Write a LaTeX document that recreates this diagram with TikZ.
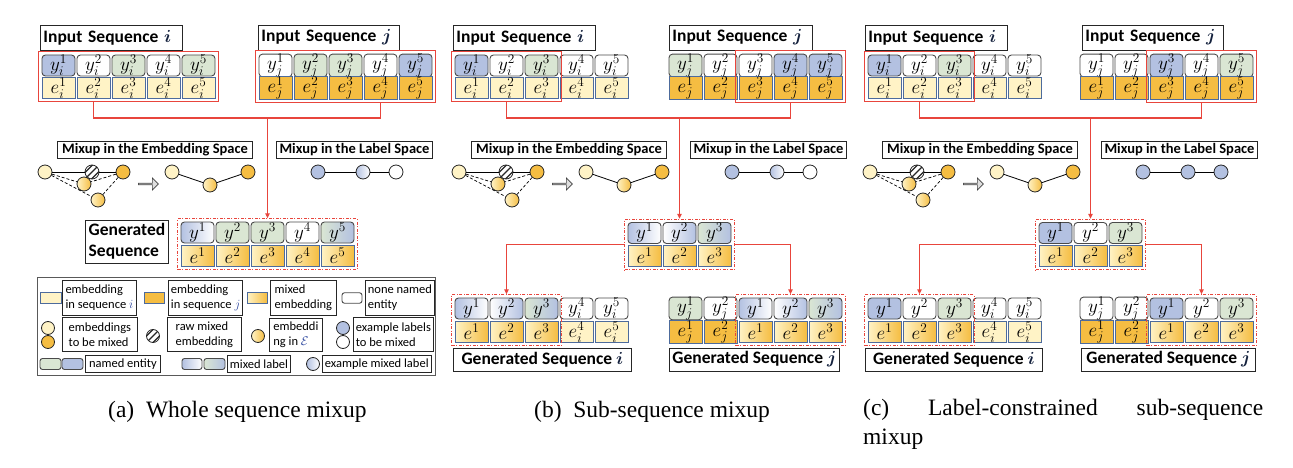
\RequirePackage{fix-cm}
\documentclass[tikz,border=0pt]{standalone}
\usepackage{fontspec}
\usepackage{bm}
\newfontfamily\calfont{Carlito}
\newfontfamily\capfont{Liberation Serif}
\usetikzlibrary{fit,shapes.arrows,arrows.meta,calc}
\definecolor{cYi}{HTML}{FFF3C6}
\definecolor{cYj}{HTML}{F5BD42}
\definecolor{cEb}{HTML}{4D6B9C}
\definecolor{cYb}{HTML}{4A4A4A}
\definecolor{cBlue}{HTML}{B3C1E1}
\definecolor{cGreen}{HTML}{DAE6D3}
\definecolor{cRed}{HTML}{E8453C}
\definecolor{cIdx}{HTML}{2E48A0}
\definecolor{cHd}{HTML}{14213D}
\newcommand\cellfont{\fontsize{19}{21}\selectfont}
\newcommand\hdfont{\calfont\bfseries\fontsize{17.5}{21}\selectfont}
\newcommand\mxfont{\calfont\bfseries\fontsize{14.5}{16}\selectfont}
\newcommand\lgfont{\calfont\fontsize{12.5}{15}\selectfont}
\newcommand\cpfont{\capfont\fontsize{23.5}{29}\selectfont}
\newcommand\hdidx[1]{{\color{cHd}$\bm{#1}$}}
\newcommand\lgidx[1]{{\color{cIdx}$#1$}}
\tikzset{
 ycell/.style={draw=cYb, line width=0.9pt, rounded corners=3.5pt, minimum width=33pt, minimum height=21pt, inner sep=0pt, font=\cellfont},
 ecell/.style={draw=cEb, line width=0.7pt, minimum width=33pt, minimum height=21pt, inner sep=0pt, font=\cellfont},
 fB/.style={fill=cBlue}, fG/.style={fill=cGreen}, fW/.style={fill=white},
 fBW/.style={left color=cBlue, right color=white},
 fWB/.style={left color=white, right color=cBlue},
 fGB/.style={left color=cGreen, right color=cBlue},
 fEi/.style={fill=cYi}, fEj/.style={fill=cYj},
 fEm/.style={left color=cYi, right color=cYj},
 rbox/.style={draw=cRed, line width=1.2pt, inner sep=2.8pt},
 dbox/.style={draw=cRed, line width=1pt, inner sep=2.8pt, dash pattern=on 3pt off 1.5pt on 1pt off 1.5pt},
 redline/.style={draw=cRed, line width=1.2pt},
 rarrow/.style={redline, -{Triangle[length=5pt,width=4.5pt]}},
 hbox/.style={draw=black!85, line width=0.9pt, fill=white, font=\hdfont, anchor=west, minimum height=25pt, inner xsep=3pt, inner ysep=0pt, align=left},
 mbox/.style={draw=black!85, line width=0.9pt, fill=white, font=\mxfont, minimum height=16.5pt, inner sep=0pt},
 circ/.style={circle, draw=black!85, line width=0.8pt, minimum size=14pt, inner sep=0pt},
 cLi/.style={circ, fill=cYi}, cOr/.style={circ, fill=cYj}, cMix/.style={circ, left color=cYi, right color=cYj},
 cBl/.style={circ, fill=cBlue}, cBW/.style={circ, left color=cBlue, right color=white}, cWh/.style={circ, fill=white},
 cHatch/.style={circ, fill=white, path picture={
   \foreach \o in {-4.6,0,4.6}{
     \draw[line width=1.3pt] ([shift={(\o*0.707pt-8pt,-\o*0.707pt-8pt)}]path picture bounding box.center) -- ([shift={(\o*0.707pt+8pt,-\o*0.707pt+8pt)}]path picture bounding box.center);
   }}},
 barrow/.style={single arrow, draw=black!75, fill=gray!25, line width=0.7pt, minimum height=20pt, minimum width=12pt, single arrow head extend=2.5pt, inner sep=0pt},
 ltxt/.style={draw=black!85, line width=0.8pt, fill=white, font=\lgfont, anchor=north west, align=left, inner xsep=2.5pt, inner ysep=0pt},
 gbox/.style={draw=black!85, line width=0.9pt, fill=white, font=\hdfont, anchor=west, minimum height=23pt, inner xsep=3pt, inner ysep=0pt, align=left},
 capt/.style={font=\cpfont, inner sep=0pt},
}
\newcommand\ycells[4]{\foreach \st/\tx [count=\k] in {#4}{\node[ycell,\st] (#1\k) at ({#2+16.5+(\k-1)*35},#3) {\tx};}}
\newcommand\ecells[4]{\foreach \st/\tx [count=\k] in {#4}{\node[ecell,\st] (#1\k) at ({#2+16.5+(\k-1)*35},#3) {\tx};}}
\newcommand\mixsec[5]{%
\begin{scope}[xshift=#2pt]
\node[mbox, minimum width=195pt] (#1emb) at (155,150) {Mixup in the Embedding Space};
\node[mbox, minimum width=156pt] (#1lab) at (354.5,150) {Mixup in the Label Space};
\node[cLi] (#1c1) at (45,172) {};
\node[cHatch] (#1h) at (92,172) {};
\node[cOr] (#1c2) at (123,172) {};
\node[cMix] (#1m1) at (84,184) {};
\node[cMix] (#1m2) at (98,200) {};
\draw[line width=0.8pt] (#1c1) -- (#1h) -- (#1c2);
\draw[line width=0.7pt, dash pattern=on 3pt off 2pt] (#1c1) -- (#1m1) (#1c1) -- (#1m2) (#1c2) -- (#1m1) (#1c2) -- (#1m2);
\node[barrow] (#1arr) at (148,184) {};
\node[cLi] (#1r1) at (172,172) {};
\node[cMix] (#1r2) at (210,185) {};
\node[cOr] (#1r3) at (248,172) {};
\draw[line width=0.8pt] (#1r1) -- (#1r2) -- (#1r3);
\node[#3] (#1l1) at (318,172) {};
\node[#4] (#1l2) at (363,172) {};
\node[#5] (#1l3) at (396,172) {};
\draw[line width=0.8pt] (#1l1) -- (#1l2) -- (#1l3);
\end{scope}}
\begin{document}
\begin{tikzpicture}[x=1pt,y=-1pt]
\useasboundingbox (0,0) rectangle (1293,468);
% ================= panel (a)
\node[hbox,text width=136pt] (aHi) at (40,37.5) {Input Sequence \hdidx{i}};
\node[hbox,text width=135pt] (aHj) at (258,37.5) {Input Sequence \hdidx{j}};
\ycells{aiy}{42}{65.5}{fB/{$y_i^1$},fW/{$y_i^2$},fG/{$y_i^3$},fW/{$y_i^4$},fG/{$y_i^5$}}
\ecells{aie}{42}{88}{fEi/{$e_i^1$},fEi/{$e_i^2$},fEi/{$e_i^3$},fEi/{$e_i^4$},fEi/{$e_i^5$}}
\ycells{ajy}{259}{65.5}{fW/{$y_j^1$},fG/{$y_j^2$},fG/{$y_j^3$},fW/{$y_j^4$},fB/{$y_j^5$}}
\ecells{aje}{259}{88}{fEj/{$e_j^1$},fEj/{$e_j^2$},fEj/{$e_j^3$},fEj/{$e_j^4$},fEj/{$e_j^5$}}
\node[rbox, fit=(aiy1)(aie5)] (aiBox) {};
\node[rbox, fit=(ajy1)(aje5)] (ajBox) {};
\mixsec{a}{0}{cBl}{cBW}{cWh}
\node[gbox, minimum width=83pt, minimum height=43pt] (aGL) at (85,241.5) {Generated\\Sequence};
\ycells{agy}{181}{232.5}{fBW/{$y^1$},fG/{$y^2$},fG/{$y^3$},fW/{$y^4$},fGB/{$y^5$}}
\ecells{age}{181}{255.5}{fEm/{$e^1$},fEm/{$e^2$},fEm/{$e^3$},fEm/{$e^4$},fEm/{$e^5$}}
\node[dbox, fit=(agy1)(age5)] (aGen) {};
\coordinate (aJ) at (267.5,118);
\draw[redline] (aiy2 |- aiBox.south) |- (aJ) -| (ajy4 |- ajBox.south);
\draw[rarrow] (aJ) -- (aJ |- aGen.north);
% legend
\node[draw=black!65, line width=1.3pt, minimum width=398pt, minimum height=98pt, inner sep=0pt, anchor=north west] (lgFrame) at (37,277) {};
\node[ecell, fEi, minimum width=21pt, minimum height=10.5pt] (lgs1) at (50.5,298) {};
\node[ltxt, minimum width=74pt, minimum height=35pt] (lgt1) at (62,280) {embedding\\in sequence \lgidx{i}};
\node[ecell, fEj, minimum width=20pt, minimum height=10.5pt] (lgs2) at (154,298) {};
\node[ltxt, minimum width=73pt, minimum height=35pt] (lgt2) at (168,280) {embedding\\in sequence \lgidx{j}};
\node[ecell, fEm, minimum width=20pt, minimum height=10.5pt] (lgs3) at (257,298) {};
\node[ltxt, minimum width=66pt, minimum height=35pt] (lgt3) at (270,280) {mixed\\embedding};
\node[ycell, fW, minimum width=20pt, minimum height=10.5pt, rounded corners=2.5pt] (lgs4) at (352,298) {};
\node[ltxt, minimum width=67pt, minimum height=35pt] (lgt4) at (365,280) {none named\\entity};
\node[cLi, minimum size=13pt] (lgc1) at (48,328) {};
\node[cOr, minimum size=13pt] (lgc2) at (48,342) {};
\node[ltxt, minimum width=75pt, minimum height=34pt] (lgt5) at (62,317) {embeddings\\to be mixed};
\node[cHatch, minimum size=13pt] (lgc3) at (153,336) {};
\node[ltxt, minimum width=74pt, minimum height=34pt] (lgt6) at (167,317) {raw mixed\\embedding};
\node[cMix, minimum size=13pt] (lgc4) at (258,336) {};
\node[ltxt, minimum width=53pt, minimum height=33pt] (lgt7) at (269,318) {embeddi\\ng in \lgidx{\mathcal{E}}};
\node[cBl, minimum size=13pt] (lgc5) at (343,328) {};
\node[cWh, minimum size=13pt] (lgc6) at (343,342) {};
\node[ltxt, minimum width=79pt, minimum height=34pt] (lgt8) at (353,317) {example labels\\to be mixed};
\node[ycell, fG, minimum width=21pt, minimum height=11pt, rounded corners=2.5pt] (lgs5) at (50.5,364) {};
\node[ycell, fB, minimum width=21pt, minimum height=11pt, rounded corners=2.5pt] (lgs6) at (72.5,364) {};
\node[ltxt, minimum width=75pt, minimum height=17pt] (lgt9) at (85,355) {named entity};
\node[ycell, fBW, minimum width=20pt, minimum height=11pt, rounded corners=2.5pt] (lgs7) at (192,364) {};
\node[ycell, fGB, minimum width=21pt, minimum height=11pt, rounded corners=2.5pt] (lgs8) at (214.5,364) {};
\node[ltxt, minimum width=61pt, minimum height=17pt] (lgt10) at (227,355) {mixed label};
\node[cBW, minimum size=13pt] (lgc7) at (313,364) {};
\node[ltxt, minimum width=104pt, minimum height=17pt] (lgt11) at (322,355) {example mixed label};
% ================= panel (b)
\node[hbox,text width=136pt] (bHi) at (453,37.5) {Input Sequence \hdidx{i}};
\node[hbox,text width=137pt] (bHj) at (669,37.5) {Input Sequence \hdidx{j}};
\ycells{biy}{455}{65.5}{fB/{$y_i^1$},fW/{$y_i^2$},fG/{$y_i^3$},fW/{$y_i^4$},fW/{$y_i^5$}}
\ecells{bie}{455}{88}{fEi/{$e_i^1$},fEi/{$e_i^2$},fEi/{$e_i^3$},fEi/{$e_i^4$},fEi/{$e_i^5$}}
\ycells{bjy}{669}{65.5}{fG/{$y_j^1$},fW/{$y_j^2$},fW/{$y_j^3$},fB/{$y_j^4$},fB/{$y_j^5$}}
\ecells{bje}{669}{88}{fEj/{$e_j^1$},fEj/{$e_j^2$},fEj/{$e_j^3$},fEj/{$e_j^4$},fEj/{$e_j^5$}}
\node[rbox, fit=(biy1)(bie3)] (biBox) {};
\node[rbox, fit=(bjy3)(bje5)] (bjBox) {};
\mixsec{b}{414}{cBl}{cBW}{cWh}
\ycells{bmy}{628}{233}{fBW/{$y^1$},fWB/{$y^2$},fGB/{$y^3$}}
\ecells{bme}{628}{256}{fEm/{$e^1$},fEm/{$e^2$},fEm/{$e^3$}}
\node[dbox, fit=(bmy1)(bme3)] (bMid) {};
\coordinate (bJ) at (bMid.north |- 0,118);
\draw[redline] (biBox.south) |- (bJ) -| (bjBox.south);
\draw[rarrow] (bJ) -- (bMid.north);
\ycells{bgiy}{455}{308.5}{fBW/{$y^1$},fWB/{$y^2$},fGB/{$y^3$},fW/{$y_i^4$},fW/{$y_i^5$}}
\ecells{bgie}{455}{332}{fEm/{$e^1$},fEm/{$e^2$},fEm/{$e^3$},fEi/{$e_i^4$},fEi/{$e_i^5$}}
\node[dbox, fit=(bgiy1)(bgie3)] (bgiBox) {};
\ycells{bgjy}{669}{308.5}{fG/{$y_j^1$},fW/{$y_j^2$},fBW/{$y^1$},fWB/{$y^2$},fGB/{$y^3$}}
\ecells{bgje}{669}{332}{fEj/{$e_j^1$},fEj/{$e_j^2$},fEm/{$e^1$},fEm/{$e^2$},fEm/{$e^3$}}
\node[dbox, fit=(bgjy3)(bgje5)] (bgjBox) {};
\draw[rarrow] (bMid.west) -| (bgiBox.north);
\draw[rarrow] (bMid.east) -| (bgjBox.north);
\node[gbox, minimum width=178pt] (bGi) at (453,359.5) {Generated Sequence \hdidx{i}};
\node[gbox, minimum width=168pt] (bGj) at (669,359.5) {Generated Sequence \hdidx{j}};
% ================= panel (c)
\node[hbox,text width=136pt] (cHi) at (865,37.5) {Input Sequence \hdidx{i}};
\node[hbox,text width=135pt] (cHj) at (1082,37.5) {Input Sequence \hdidx{j}};
\ycells{ciy}{868}{65.5}{fB/{$y_i^1$},fW/{$y_i^2$},fG/{$y_i^3$},fW/{$y_i^4$},fW/{$y_i^5$}}
\ecells{cie}{868}{88}{fEi/{$e_i^1$},fEi/{$e_i^2$},fEi/{$e_i^3$},fEi/{$e_i^4$},fEi/{$e_i^5$}}
\ycells{cjy}{1080}{65.5}{fW/{$y_j^1$},fW/{$y_j^2$},fB/{$y_j^3$},fW/{$y_j^4$},fG/{$y_j^5$}}
\ecells{cje}{1080}{88}{fEj/{$e_j^1$},fEj/{$e_j^2$},fEj/{$e_j^3$},fEj/{$e_j^4$},fEj/{$e_j^5$}}
\node[rbox, fit=(ciy1)(cie3)] (ciBox) {};
\node[rbox, fit=(cjy3)(cje5)] (cjBox) {};
\mixsec{c}{825}{cBl}{cBl}{cBl}
\ycells{cmy}{1039}{233}{fB/{$y^1$},fW/{$y^2$},fG/{$y^3$}}
\ecells{cme}{1039}{256}{fEm/{$e^1$},fEm/{$e^2$},fEm/{$e^3$}}
\node[dbox, fit=(cmy1)(cme3)] (cMid) {};
\coordinate (cJ) at (cMid.north |- 0,118);
\draw[redline] (ciBox.south) |- (cJ) -| (cjBox.south);
\draw[rarrow] (cJ) -- (cMid.north);
\ycells{cgiy}{868}{308.5}{fB/{$y^1$},fW/{$y^2$},fG/{$y^3$},fW/{$y_i^4$},fW/{$y_i^5$}}
\ecells{cgie}{868}{332}{fEm/{$e^1$},fEm/{$e^2$},fEm/{$e^3$},fEi/{$e_i^4$},fEi/{$e_i^5$}}
\node[dbox, fit=(cgiy1)(cgie3)] (cgiBox) {};
\ycells{cgjy}{1080}{308.5}{fW/{$y_j^1$},fW/{$y_j^2$},fB/{$y^1$},fW/{$y^2$},fG/{$y^3$}}
\ecells{cgje}{1080}{332}{fEj/{$e_j^1$},fEj/{$e_j^2$},fEm/{$e^1$},fEm/{$e^2$},fEm/{$e^3$}}
\node[dbox, fit=(cgjy3)(cgje5)] (cgjBox) {};
\draw[rarrow] (cMid.west) -| (cgiBox.north);
\draw[rarrow] (cMid.east) -| (cgjBox.north);
\node[gbox, minimum width=177pt] (cGi) at (865,359.5) {Generated Sequence \hdidx{i}};
\node[gbox, minimum width=174pt] (cGj) at (1081,359.5) {Generated Sequence \hdidx{j}};
% ================= captions
\node[capt, anchor=base west] (capA) at (108,417) {(a)\hspace{0.5em}Whole sequence mixup};
\node[capt, anchor=base west] (capB) at (534,417) {(b)\hspace{0.5em}Sub-sequence mixup};
\node[capt, anchor=north west, text width=400pt, align=left] (capC) at (863,399) {(c)\hspace{\stretch{1}}Label-constrained\hspace{\stretch{1}}sub-sequence\\mixup};
\end{tikzpicture}
\end{document}
